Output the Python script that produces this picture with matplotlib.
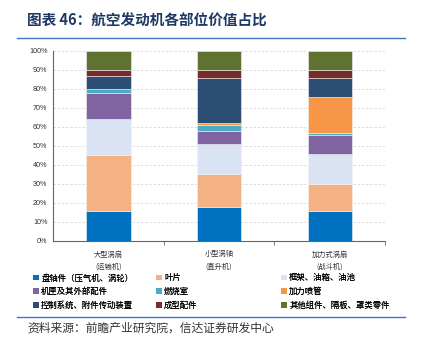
import numpy as np
import matplotlib
matplotlib.use('Agg')
import matplotlib.pyplot as plt
from matplotlib.patches import Patch
from matplotlib.lines import Line2D

plt.rcParams['font.family'] = ['Noto Sans CJK SC', 'DejaVu Sans']

# 发动机类型
engines = ['大型涡扇\n(运输机)', '小型涡轴\n(直升机)', '加力式涡扇\n(战斗机)']

# 各部位价值占比(%)
parts = ['盘轴件（压气机、涡轮）', '叶片', '框架、油箱、油池',
         '机匣及其外部配件', '燃烧室', '加力喷管',
         '控制系统、附件传动装置', '成型配件', '其他组件、隔板、罩类零件']
share_disk = [16, 18, 16]
share_blade = [29, 17, 14]
share_frame = [19, 16, 16]
share_case = [14, 7, 10]
share_combustor = [2, 3, 1]
share_nozzle = [0, 1, 19]
share_control = [7, 24, 10]
share_formed = [3, 4, 4]
share_other = [10, 10, 10]

colors = ['#0070C0', '#F4B183', '#DAE3F3', '#8064A2', '#4BACC6',
          '#F79646', '#2C4D74', '#772B2A', '#607232']

series = [share_disk, share_blade, share_frame, share_case, share_combustor,
          share_nozzle, share_control, share_formed, share_other]

fig = plt.figure(figsize=(4.21, 3.47), dpi=100)
ax = fig.add_axes([0.126, 0.3055, 0.7886, 0.5476])

x = np.arange(len(engines))
bottom = np.zeros(len(engines))
for vals, c in zip(series, colors):
    vals = np.array(vals, dtype=float)
    ax.bar(x, vals, 0.4, bottom=bottom, color=c, edgecolor='#f2f2f2',
           linewidth=0.4, zorder=3)
    bottom += vals

ax.set_xlim(-0.5, 2.5)
ax.set_ylim(0, 100)
ax.set_yticks(np.arange(0, 101, 10))
ax.set_yticklabels(['{}%'.format(v) for v in range(0, 101, 10)],
                   family=['Liberation Sans'], fontsize=5.2, color='#333333')
ax.yaxis.grid(True, linestyle=(0, (3, 2)), color='#d9d9d9', linewidth=0.6, zorder=0)
ax.tick_params(axis='y', length=0, pad=4)

# 类别刻度放在分界处
ax.set_xticks([0.5, 1.5, 2.5])
ax.set_xticklabels([])
ax.tick_params(axis='x', length=3, width=0.6, color='#666666', direction='out')
for xi, name in zip(x, engines):
    ax.text(xi, -5.0, name, ha='center', va='top', fontsize=5.2,
            color='#333333', linespacing=1.75)

for s in ['top', 'right']:
    ax.spines[s].set_visible(False)
for s in ['left', 'bottom']:
    ax.spines[s].set_color('#666666')
    ax.spines[s].set_linewidth(0.8)

# 图例分三列放置，按行读
handles = [Patch(facecolor=c, edgecolor='none') for c in colors]
col_x = [0.078, 0.370, 0.667]
for k, cx in enumerate(col_x):
    idx = [k, k + 3, k + 6]
    leg = fig.legend([handles[i] for i in idx], [parts[i] for i in idx],
                     loc='upper left', bbox_to_anchor=(cx, 0.212),
                     frameon=False, fontsize=6, handlelength=0.7, handleheight=0.7,
                     handletextpad=0.3, labelspacing=0.55,
                     borderaxespad=0, borderpad=0)
    fig.add_artist(leg)

# 标题和分隔线
fig.text(0.064, 0.94, '图表 46：航空发动机各部位价值占比', fontsize=10.5,
         fontweight='bold', color='#1F3864', va='center')
fig.add_artist(Line2D([0.04, 0.962], [0.89, 0.89], color='#4472C4', linewidth=1.0))
fig.add_artist(Line2D([0.04, 0.962], [0.087, 0.087], color='#4472C4', linewidth=1.0))
fig.text(0.066, 0.055, '资料来源：前瞻产业研究院，信达证券研发中心', fontsize=8.5,
         color='#333333', va='center', fontstyle='italic')

fig.savefig('out.png', dpi=100)
